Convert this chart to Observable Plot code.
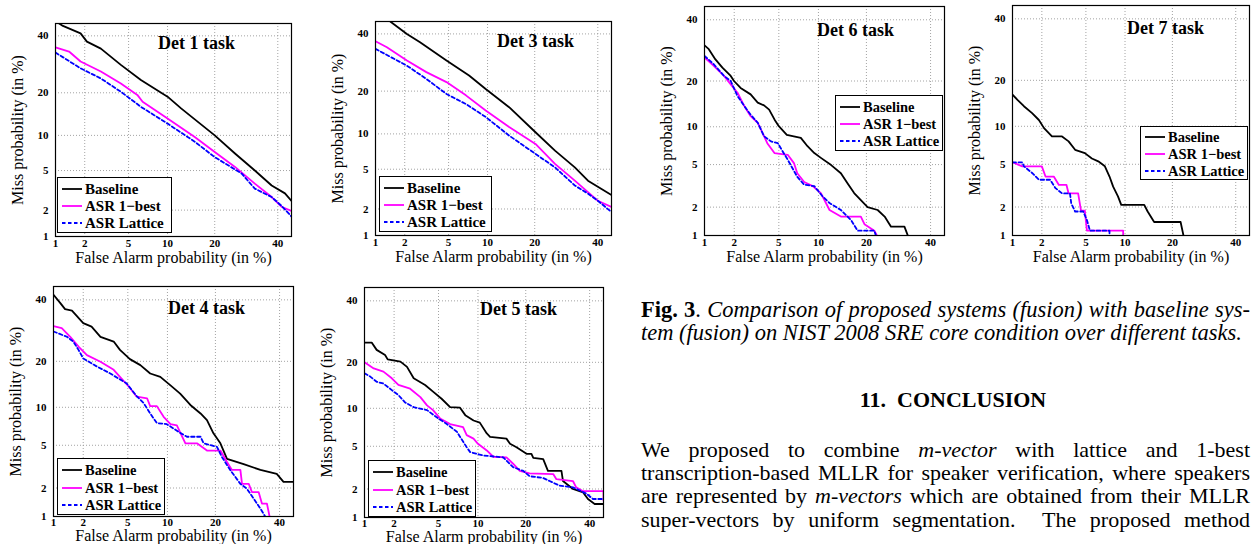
<!DOCTYPE html>
<html><head><meta charset="utf-8">
<script src="https://cdn.jsdelivr.net/npm/d3@7"></script>
<script src="https://cdn.jsdelivr.net/npm/@observablehq/plot@0.6"></script>
<style>
body{margin:0;background:#fff;}
#page{position:relative;width:1253px;height:544px;overflow:hidden;font-family:"Liberation Serif","Times New Roman",serif;color:#000;background:#fff;}
.panel{position:absolute;}
.legend{position:absolute;border:1px solid #000;background:#fff;box-sizing:border-box;font-weight:bold;}
.legend .row{position:absolute;left:0;white-space:nowrap;}
.legend svg{position:absolute;left:3px;top:0;}
.legend span{position:absolute;left:27px;top:0;line-height:1;transform:translateY(-50%);}
.txt{position:absolute;left:641px;width:609px;font-size:22px;line-height:23.3px;}
.just{text-align:justify;text-align-last:justify;}
</style></head><body><div id="page"></div>
<script>
// ---------- data (False alarm %, Miss %) ----------
const tickValues = [1, 2, 5, 10, 20, 40];
const seriesNames = ["Baseline", "ASR 1\u2212best", "ASR Lattice"];
const seriesColors = ["#000000", "#ff00ff", "#0000ff"];
const panelTitles = ["Det 1 task", "Det 3 task", "Det 4 task", "Det 5 task", "Det 6 task", "Det 7 task"];
const xLabel = "False Alarm probability (in %)";
const yLabel = "Miss probability (in %)";

const det1Baseline = [[1.0,46],[1.2,44],[1.82,41],[2.1,37.7],[2.85,35],[4.3,29],[6.3,23.9],[10,18.9],[12.4,15.8],[20,10],[25.7,7.1],[32,5.0],[37.8,3.6],[42.6,3.0],[45,2.5]];
const det1Best = [[1,35.5],[1.39,33.9],[1.82,30.2],[2.85,26.7],[4.3,22.8],[5.9,19.4],[6.5,17.5],[10,13.4],[15.2,9.7],[20,7.3],[25.7,5.4],[32,3.75],[37.8,2.75],[41.5,2.16],[45,1.96]];
const det1Lattice = [[1,33.5],[1.82,27.8],[2.85,24.4],[4.3,20.3],[6.3,16.2],[10,12.3],[15.2,8.9],[20,6.6],[27.7,4.7],[32,3.35],[37.8,2.75],[41.5,2.2],[45,1.7]];

const det3Baseline = [[1.3,47],[1.43,45],[2.1,40],[2.8,36.7],[4.8,29.9],[7.3,24.8],[9.7,20.6],[14,15.7],[20.2,10.3],[25.7,7.3],[32,5.2],[36.5,3.9],[41.2,3.25],[45,2.8]];
const det3Best = [[1,37.1],[1.32,34.8],[2.1,29.9],[3.2,25.9],[4.8,22.7],[6.9,18.8],[9.7,14.9],[14,11.3],[20.2,8.3],[25.7,5.6],[32,3.9],[36.5,3.0],[40,2.45],[45,2.1]];
const det3Lattice = [[1,34.2],[2.1,28.1],[3.2,23.7],[4.8,19.2],[6.9,16.5],[9.7,13.4],[14,9.7],[20.2,6.85],[25.7,5.2],[32,3.5],[36.5,2.9],[40,2.45],[45,1.85]];

const det4Baseline = [[1,41.9],[1.18,38.8],[1.32,36.6],[1.55,36.1],[2.0,31.7],[2.4,30.5],[2.9,27.2],[3.8,25.7],[4.3,23.2],[5.2,20.6],[6.3,19.0],[7.5,16.9],[8.9,16.1],[10.5,14.2],[12.2,12.5],[14.2,10.4],[16.4,9.0],[17.9,8.0],[19.5,6.3],[21.3,5.2],[23.1,3.8],[28,3.4],[33.4,3.0],[39,2.75],[41.4,2.3],[45,2.3]];
const det4Best = [[1,30.7],[1.22,30.0],[1.49,27.2],[1.8,24.2],[2.17,21.7],[2.9,19.9],[3.8,17.8],[4.3,16.1],[5.1,13.9],[5.9,11.9],[7.1,11.6],[7.5,10.2],[8.4,10.2],[9.4,8.5],[10.5,7.45],[11.6,7.3],[13.2,5.2],[15.6,5.2],[17.9,4.5],[21.3,4.5],[23.1,3.55],[24.5,3.0],[27,3.0],[27.5,2.2],[29.6,2.2],[30.6,1.82],[32.8,1.82],[33.9,1.38],[35.6,1.38],[36.5,1.0]];
const det4Lattice = [[1,28.9],[1.38,27.2],[1.6,25.7],[1.8,23.2],[2.0,20.8],[2.7,18.6],[3.55,16.9],[4.9,14.6],[5.9,12.0],[6.7,10.7],[7.5,9.0],[8.4,7.6],[9.9,7.45],[12.2,6.35],[13.5,5.9],[16.4,5.9],[17.1,5.2],[20.4,4.85],[21.7,3.95],[24,3.0],[27,2.2],[29,1.97],[31.2,1.55],[33.4,1.22],[35,1.0]];

const det5Baseline = [[1,25.7],[1.19,25.7],[1.34,23.5],[1.63,22.0],[1.73,20.8],[2.3,20.2],[2.65,18.8],[3.05,16.0],[3.85,14.5],[4.5,13.1],[5.3,11.7],[6.2,10.2],[7.4,10.1],[8.1,8.9],[9.3,8.1],[10.3,7.8],[11.5,6.4],[12.1,6.0],[15.4,5.8],[16.2,5.25],[17.7,4.9],[20.2,4.3],[21.5,4.3],[22,3.95],[24.8,3.85],[26.2,3.0],[30.4,3.0],[30.9,2.4],[34.2,2.0],[37.7,1.85],[39.4,1.58],[41.8,1.4],[45,1.4]];
const det5Best = [[1,20],[1.25,18.4],[1.57,17.6],[1.9,16],[2.2,14.5],[2.83,13.7],[3.5,12.0],[4.0,10.5],[4.5,9.7],[5.15,8.4],[6.2,7.6],[7.8,7.2],[8.3,6.2],[9.3,5.8],[10,5.25],[11.5,4.6],[12.7,4.05],[15.4,4.0],[16.9,3.5],[18.5,3.0],[21,2.85],[27.8,2.8],[28.8,2.5],[34.2,2.4],[35.3,2.08],[37.7,1.9],[45,1.9],[45,1.52]];
const det5Lattice = [[1,17.2],[1.15,16.4],[1.34,15.2],[1.57,14.8],[1.9,13.4],[2.2,12.4],[2.55,11.0],[3.05,10.2],[4.0,9.7],[4.8,8.6],[5.8,7.65],[7.0,6.6],[8.3,4.9],[8.8,4.45],[10.9,4.15],[14.7,4.0],[16.9,3.25],[19.4,3.0],[21,2.67],[24.8,2.57],[26.7,2.4],[29.8,2.16],[34.2,2.08],[38.8,1.8],[41.2,1.58],[45,1.58]];

const det6Baseline = [[1,30.9],[1.11,29.6],[1.3,26.3],[1.53,23.8],[1.85,21.4],[1.99,20.0],[2.3,18.2],[2.85,16.6],[3.3,14.7],[3.75,14.1],[4.15,13.2],[4.6,11.3],[5.0,10.1],[5.8,8.7],[7.45,8.25],[8.35,7.1],[9.35,6.25],[10.4,5.7],[12.2,4.95],[14.1,4.2],[15.5,3.4],[17,2.75],[18.6,2.35],[20.3,2.0],[23,1.87],[25,1.6],[26.9,1.25],[31.1,1.25],[32.2,1.0]];
const det6Best = [[1,26.9],[1.25,24.3],[1.59,21.4],[1.85,19.1],[2.15,17],[2.5,13.9],[2.85,11.9],[3.3,10.7],[3.75,8.5],[4.0,7.5],[4.6,6.25],[5.9,6.05],[6.6,5.15],[7.0,4.2],[7.9,3.5],[9.1,3.2],[10.4,2.75],[11.9,1.87],[14.1,1.6],[18.6,1.6],[19.5,1.33],[22.1,1.13],[22.8,1.0]];
const det6Lattice = [[1,27.4],[1.25,24.8],[1.59,21.4],[1.85,20.0],[2.15,16.2],[2.5,13.9],[2.85,12.2],[3.3,10.7],[3.75,8.5],[4.3,7.75],[4.9,7.5],[5.9,5.5],[7.0,3.9],[7.9,3.3],[9.35,3.2],[10.7,2.55],[11.9,2.2],[14.1,1.87],[16.3,1.47],[17.8,1.13],[22.1,1.13],[22.5,1.0]];

const det7Baseline = [[1,16.4],[1.13,15.2],[1.32,13.8],[1.6,12.4],[1.87,11.1],[2.1,9.7],[2.5,8.4],[3.1,8.4],[3.55,7.7],[4.05,6.6],[4.9,6.2],[5.6,5.6],[6.3,5.3],[7.1,4.8],[7.7,3.9],[8.2,3.15],[8.9,2.55],[9.4,2.1],[13.5,2.1],[14.2,1.8],[15.6,1.4],[22.2,1.4],[23,1.0]];
const det7Best = [[1,5.2],[1.27,4.8],[2.0,4.8],[2.17,3.9],[2.6,3.9],[2.9,3.27],[3.4,3.27],[3.55,2.72],[4.3,2.72],[4.55,1.84],[4.9,1.84],[5.1,1.13],[9.7,1.13],[9.7,1.0]];
const det7Lattice = [[1,5.2],[1.27,5.2],[1.32,4.8],[1.6,4.2],[1.87,3.65],[2.4,3.65],[2.7,3.05],[3.1,2.72],[3.65,2.72],[3.75,2.17],[4.05,1.8],[4.75,1.8],[5.1,1.47],[5.4,1.13],[7.7,1.13],[7.7,1.0]];

const panelSeries = [
  [det1Baseline, det1Best, det1Lattice],
  [det3Baseline, det3Best, det3Lattice],
  [det4Baseline, det4Best, det4Lattice],
  [det5Baseline, det5Best, det5Lattice],
  [det6Baseline, det6Best, det6Lattice],
  [det7Baseline, det7Best, det7Lattice]
];

// ---------- layout (page pixels) ----------
const layout = [
  {frame:[55,291,23,236],  title:[141,20], legend:[57,177,115,56],  xlab:21,   tpad:3},
  {frame:[375,611,21,235], title:[160,20], legend:[379,176,113,56], xlab:21,   tpad:3},
  {frame:[53,293,286,516], title:[153,22], legend:[57,458,108,57],  xlab:19.5, tpad:1.5},
  {frame:[364,603,287,517],title:[154,22], legend:[368,460,108,57], xlab:19,   tpad:1.5},
  {frame:[704,944,6,235],  title:[151,24], legend:[835,95,108,56],  xlab:21,   tpad:3},
  {frame:[1012,1249,5,235],title:[153,23], legend:[1140,126,108,54],xlab:21,   tpad:3}
];

// normal deviate (probit) for DET axes
function probit(p) {
  const a=[-3.969683028665376e+01,2.209460984245205e+02,-2.759285104469687e+02,1.383577518672690e+02,-3.066479806614716e+01,2.506628277459239e+00];
  const b=[-5.447609879822406e+01,1.615858368580409e+02,-1.556989798598866e+02,6.680131188771972e+01,-1.328068155288572e+01];
  const c=[-7.784894002430293e-03,-3.223964580411365e-01,-2.400758277161838e+00,-2.549732539343734e+00,4.374664141464968e+00,2.938163982698783e+00];
  const d=[7.784695709041462e-03,3.224671290700398e-01,2.445134137142996e+00,3.754408661907416e+00];
  const pl=0.02425;
  if (p < pl) { const q=Math.sqrt(-2*Math.log(p)); return (((((c[0]*q+c[1])*q+c[2])*q+c[3])*q+c[4])*q+c[5])/((((d[0]*q+d[1])*q+d[2])*q+d[3])*q+1); }
  if (p <= 1-pl) { const q=p-0.5, r=q*q; return (((((a[0]*r+a[1])*r+a[2])*r+a[3])*r+a[4])*r+a[5])*q/(((((b[0]*r+b[1])*r+b[2])*r+b[3])*r+b[4])*r+1); }
  const q=Math.sqrt(-2*Math.log(1-p)); return -(((((c[0]*q+c[1])*q+c[2])*q+c[3])*q+c[4])*q+c[5])/((((d[0]*q+d[1])*q+d[2])*q+d[3])*q+1);
}
const pz = v => probit(v / 100);
const tickZ = tickValues.map(pz);
const fmt = z => String(tickValues[tickZ.findIndex(t => Math.abs(t - z) < 1e-9)]);
const zDomain = [pz(1), pz(45)];

const page = document.getElementById("page");
const FONT = '"Liberation Serif","Times New Roman",serif';
const dashes = [null, null, "3.5,2.5"];

layout.forEach((L, k) => {
  const [fl, fr, ft, fb] = L.frame;
  const mL = 50, mR = 4, mT = 5, mB = 36;
  const rows = [];
  panelSeries[k].forEach((arr, s) => arr.forEach(([fa, miss]) => rows.push({fa, miss, s})));
  const lines = [0, 1, 2].map(s => Plot.line(rows.filter(r => r.s === s), {
    x: d => pz(d.fa), y: d => pz(d.miss), stroke: seriesColors[s], strokeWidth: 1.8,
    strokeDasharray: dashes[s] || undefined, clip: true
  }));
  const chart = Plot.plot({
    width: fr - fl + mL + mR, height: fb - ft + mT + mB,
    marginLeft: mL, marginRight: mR, marginTop: mT, marginBottom: mB,
    style: {fontFamily: FONT, color: "#000", background: "transparent", overflow: "visible"},
    x: {type: "linear", domain: zDomain},
    y: {type: "linear", domain: zDomain},
    marks: [
      Plot.gridX(tickZ, {stroke: "#999", strokeOpacity: 1, strokeWidth: 0.9, strokeDasharray: "1,2"}),
      Plot.gridY(tickZ, {stroke: "#999", strokeOpacity: 1, strokeWidth: 0.9, strokeDasharray: "1,2"}),
      ...lines,
      Plot.frame({stroke: "#000", strokeWidth: 1.2}),
      Plot.axisX(tickZ, {tickFormat: fmt, tickSize: 0, tickPadding: L.tpad, fontWeight: "bold", fontSize: 11, label: null}),
      Plot.axisY(tickZ, {tickFormat: fmt, tickSize: 0, tickPadding: 7, fontWeight: "bold", fontSize: 11, label: null}),
      Plot.text([xLabel], {frameAnchor: "bottom", dy: L.xlab, textAnchor: "middle", lineAnchor: "middle", fontSize: 16}),
      Plot.text([yLabel], {frameAnchor: "left", dx: -38, rotate: -90, textAnchor: "middle", lineAnchor: "middle", fontSize: 16}),
      Plot.text([panelTitles[k]], {frameAnchor: "top-left", dx: L.title[0], dy: L.title[1], textAnchor: "middle", lineAnchor: "middle", fontWeight: "bold", fontSize: 18})
    ]
  });
  const wrap = document.createElement("div");
  wrap.className = "panel";
  wrap.style.left = (fl - mL) + "px";
  wrap.style.top = (ft - mT) + "px";
  wrap.appendChild(chart);
  page.appendChild(wrap);

  // legend box
  const [lx, ly, lw, lh] = L.legend;
  const lg = document.createElement("div");
  lg.className = "legend";
  Object.assign(lg.style, {left: lx + "px", top: ly + "px", width: lw + "px", height: lh + "px", fontSize: (lw > 110 ? 15 : 14.5) + "px"});
  const step = (lh - 4) / 3;
  seriesNames.forEach((name, s) => {
    const row = document.createElement("div");
    row.className = "row";
    const cy = 2 + step * (s + 0.5);
    row.style.top = cy + "px";
    row.innerHTML = `<svg width="22" height="4" style="top:-2px"><line x1="1" x2="21" y1="2" y2="2" stroke="${seriesColors[s]}" stroke-width="1.8" ${dashes[s] ? `stroke-dasharray="${dashes[s]}"` : ""}/></svg><span>${name}</span>`;
    lg.appendChild(row);
  });
  page.appendChild(lg);
});

// ---------- caption & text ----------
function addText(html, top, cls, extra) {
  const d = document.createElement("div");
  d.className = "txt " + (cls || "");
  d.style.top = top + "px";
  d.innerHTML = html;
  if (extra) Object.assign(d.style, extra);
  page.appendChild(d);
}
addText('<b>Fig. 3</b>. <i>Comparison of proposed systems (fusion) with baseline sys-</i>', 297.5, "just", {fontSize: "22.5px"});
addText('<i>tem (fusion) on NIST 2008 SRE core condition over different tasks.</i>', 320.8, "", {fontSize: "22.5px"});
addText('<b>11.&nbsp;&nbsp;CONCLUSION</b>', 387.7, "", {textAlign: "center", left: "656px", width: "594px"});
addText('We proposed to combine <i>m-vector</i> with lattice and 1-best', 437.6, "just");
addText('transcription-based MLLR for speaker verification, where speakers', 460.9, "just");
addText('are represented by <i>m-vectors</i> which are obtained from their MLLR', 484.2, "just");
addText('super-vectors by uniform segmentation.&nbsp; The proposed method', 507.5, "just");
</script></body></html>
